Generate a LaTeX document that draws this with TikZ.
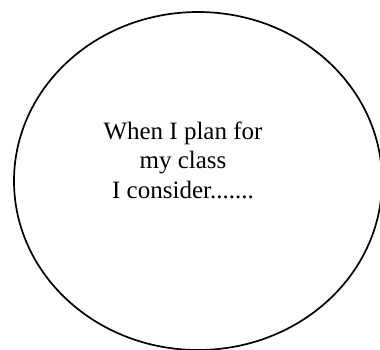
\documentclass[tikz,border=0pt]{standalone}
\usepackage{fontspec}
\setmainfont{Liberation Serif}
\begin{document}
\begin{tikzpicture}[x=1pt,y=-1pt]
  \useasboundingbox (0,0) rectangle (380,349);
  % Thought bubble (runs off the right and bottom edge)
  \begin{scope}
    \clip (0,0) rectangle (380,349);
    \draw[line width=1.7pt] (198,181) ellipse [x radius=184pt, y radius=169pt];
  \end{scope}

  % Prompt text
  \node[align=center, font=\fontsize{25}{29.5}\selectfont] (prompt) at (183,160)
    {When I plan for\\my class\\I consider.......};
\end{tikzpicture}
\end{document}
